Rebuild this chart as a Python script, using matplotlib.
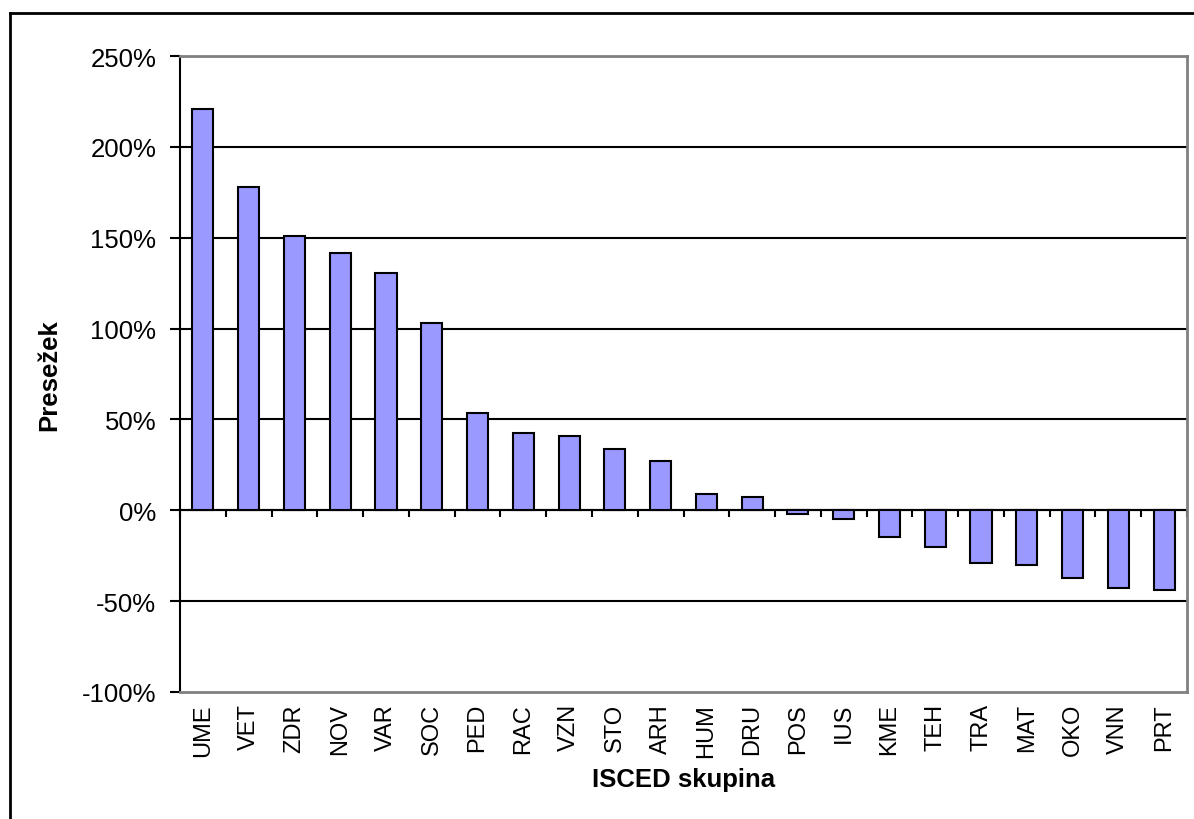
import matplotlib.pyplot as plt
import numpy as np
from matplotlib.lines import Line2D
from matplotlib.ticker import FuncFormatter

# ISCED groups and surplus [%]
groups = ["UME", "VET", "ZDR", "NOV", "VAR", "SOC", "PED", "RAC", "VZN", "STO", "ARH",
          "HUM", "DRU", "POS", "IUS", "KME", "TEH", "TRA", "MAT", "OKO", "VNN", "PRT"]
surplus = [220.7, 177.8, 150.7, 141.8, 130.8, 103.1, 53.7, 42.7, 40.7, 33.9, 27.3,
           8.8, 7.5, -2.2, -4.6, -14.5, -20.1, -28.8, -30.0, -37.5, -43.0, -44.1]
y_ticks = [-100, -50, 0, 50, 100, 150, 200, 250]

plt.rcParams["font.family"] = ["Liberation Sans", "DejaVu Sans"]

fig = plt.figure(figsize=(11.94, 8.2), dpi=100)
ax = fig.add_axes([180 / 1194, 1 - 693 / 820, 1007 / 1194, 636 / 820])

x = np.arange(len(groups))

# grid lines
for v in y_ticks[1:-1]:
    ax.axhline(v, color="black", linewidth=1.5, zorder=1)

ax.bar(x, surplus, width=0.46, color="#9999FF", edgecolor="black",
       linewidth=1.5, zorder=3)

ax.set_xlim(-0.5, len(groups) - 0.5)
ax.set_ylim(y_ticks[0], y_ticks[-1])
ax.set_yticks(y_ticks)
ax.yaxis.set_major_formatter(FuncFormatter(lambda v, p: f"{v:.0f}%"))
ax.tick_params(axis="y", length=7, width=1.5, pad=10, labelsize=18.5)

ax.set_xticks(x)
ax.set_xticklabels(groups, rotation=90, fontsize=17,
                   family=["Liberation Sans Narrow", "Liberation Sans", "DejaVu Sans"])
ax.tick_params(axis="x", length=0, pad=8)

# plot-area border
for side in ["top", "right", "bottom"]:
    ax.spines[side].set_color("#808080")
    ax.spines[side].set_linewidth(2)
ax.spines["left"].set_color("black")
ax.spines["left"].set_linewidth(1.5)

# category axis at 0 with ticks between categories
zero_pos = (0 - y_ticks[0]) / (y_ticks[-1] - y_ticks[0])
sec = ax.secondary_xaxis(zero_pos)
sec.set_xticks(np.arange(len(groups) + 1) - 0.5)
sec.set_xticklabels([])
sec.tick_params(axis="x", direction="out", length=5, width=1.5)
sec.spines["bottom"].set_linewidth(1.5)
sec.spines["bottom"].set_color("black")

ax.set_xlabel("ISCED skupina", fontsize=18.5, fontweight="bold")
ax.xaxis.set_label_coords(0.5, -0.118)
ax.set_ylabel("Presežek", fontsize=18.5, fontweight="bold")
ax.yaxis.set_label_coords(-0.118, 0.5)

# outer chart frame
fig.add_artist(Line2D([10 / 1194, 10 / 1194], [0, 1 - 14 / 820],
                      transform=fig.transFigure, color="black", linewidth=2))
fig.add_artist(Line2D([10 / 1194, 1], [1 - 14 / 820, 1 - 14 / 820],
                      transform=fig.transFigure, color="black", linewidth=2))

plt.savefig("out.png", dpi=100)
